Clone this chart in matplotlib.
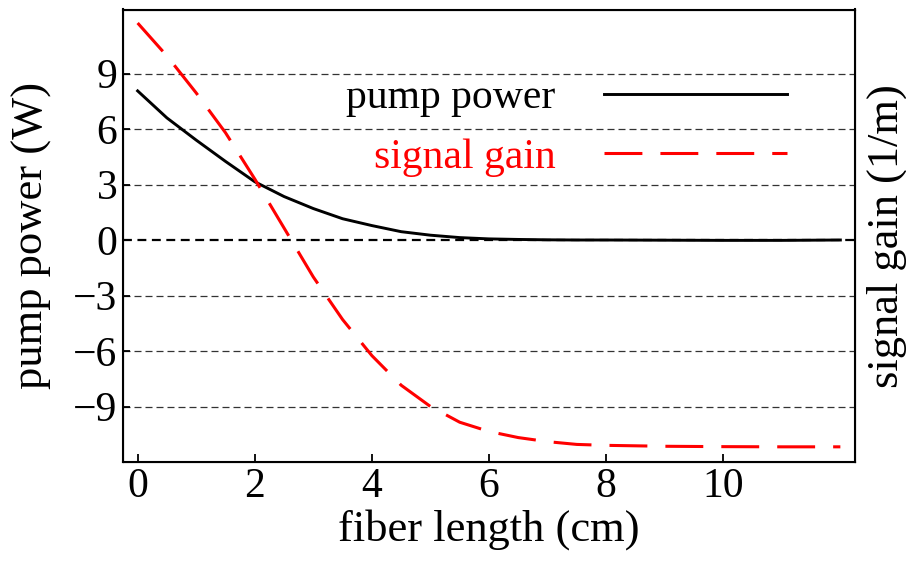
import matplotlib
matplotlib.use("Agg")
import matplotlib.pyplot as plt
import numpy as np

plt.rcParams['font.family'] = ['Liberation Serif', 'DejaVu Serif']

# data
length_cm = [0.0, 0.5, 1.0, 1.5, 2.0, 2.5, 3.0, 3.5, 4.0, 4.5, 5.0, 5.5, 6.0,
             6.5, 7.0, 7.5, 8.0, 9.0, 10.0, 11.0, 12.0]
pump_power = [8.06, 6.6, 5.4, 4.25, 3.15, 2.35, 1.7, 1.15, 0.78, 0.45, 0.26,
              0.13, 0.06, 0.03, 0.01, 0.0, 0.0, -0.01, -0.02, -0.02, 0.0]
signal_gain = [11.73, 9.95, 7.95, 5.8, 3.3, 0.65, -2.0, -4.3, -6.25, -7.85,
               -9.0, -9.85, -10.35, -10.68, -10.9, -11.05, -11.1, -11.15,
               -11.17, -11.18, -11.18]
x_ticks = [0, 2, 4, 6, 8, 10]
y_ticks = [-9, -6, -3, 0, 3, 6, 9]

fig = plt.figure(figsize=(9.06, 5.61), dpi=100)
fig.subplots_adjust(left=123 / 906, right=855 / 906,
                    top=1 - 9.5 / 561, bottom=1 - 462 / 561)
ax = fig.add_subplot(111)

# horizontal grid
for yv in y_ticks:
    if yv == 0:
        ax.axhline(yv, color='black', lw=1.6, ls=(0, (4, 2.5)), zorder=1)
    else:
        ax.axhline(yv, color='#333333', lw=0.9, ls=(0, (5.6, 3.2)), zorder=1)

ax.plot(length_cm, pump_power, color='black', lw=2.1, label='pump power',
        zorder=3)
ax.plot(length_cm, signal_gain, color='red', lw=2.2, dashes=(12.4, 5.9),
        label='signal gain', zorder=3)

ax.set_xlim(-0.25, 12.25)
ax.set_ylim(-12.0, 12.46)
ax.set_xticks(x_ticks)
ax.set_yticks(y_ticks)
ax.tick_params(direction='in', length=6, width=1.3, labelsize=30, pad=4)
ax.tick_params(axis='y', length=5, pad=4)
for sp in ax.spines.values():
    sp.set_linewidth(1.5)

ax.set_xlabel('fiber length (cm)', fontsize=32, labelpad=2)
ax.set_ylabel('pump power (W)', fontsize=32)
ax.yaxis.set_label_coords(-0.097, 0.5)

ax2 = ax.twinx()
ax2.set_ylim(ax.get_ylim())
ax2.set_yticks([])
ax2.set_ylabel('signal gain (1/m)', fontsize=32, labelpad=8)

leg = ax.legend(loc='upper right', bbox_to_anchor=(0.907, 0.847),
                frameon=False, fontsize=30, markerfirst=False,
                handlelength=4.4, handletextpad=1.15, labelspacing=0.5,
                borderpad=0, borderaxespad=0)
for txt, ln in zip(leg.get_texts(), leg.get_lines()):
    txt.set_color(ln.get_color())
    txt.set_ha('right')

fig.savefig('out.png', dpi=100)
